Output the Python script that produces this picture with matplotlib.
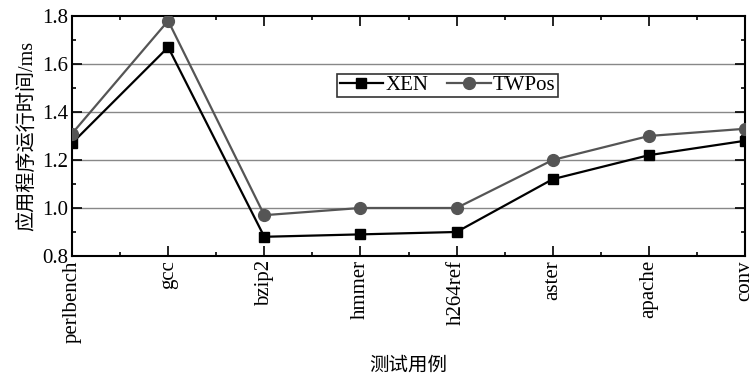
import matplotlib.pyplot as plt
from matplotlib.ticker import MultipleLocator

plt.rcParams['font.family'] = ['Liberation Serif', 'Noto Sans CJK SC']

cases = ['perlbench', 'gcc', 'bzip2', 'hmmer', 'h264ref', 'aster', 'apache', 'conv']
xen = [1.27, 1.67, 0.88, 0.89, 0.90, 1.12, 1.22, 1.28]
twpos = [1.31, 1.78, 0.97, 1.00, 1.00, 1.20, 1.30, 1.33]

fig = plt.figure(figsize=(7.51, 3.78), dpi=100)
ax = fig.add_axes([0.0959, 0.3228, 0.8961, 0.6349])

x = list(range(len(cases)))
ax.plot(x, xen, color='black', lw=1.6, marker='s', ms=7.5, label='XEN', zorder=3)
ax.plot(x, twpos, color='#555555', lw=1.6, marker='o', ms=8.5, label='TWPos', zorder=3)

ax.set_xlim(0, len(cases) - 1)
ax.set_ylim(0.8, 1.8)
ax.set_xticks(x)
ax.set_xticklabels(cases, rotation=90, fontsize=15)
ax.xaxis.set_minor_locator(MultipleLocator(0.5))
ax.yaxis.set_major_locator(MultipleLocator(0.2))
ax.yaxis.set_minor_locator(MultipleLocator(0.1))
ax.tick_params(axis='y', labelsize=15, pad=3)
ax.tick_params(axis='x', pad=3)
ax.tick_params(which='both', direction='in', top=True, right=True, width=1.2)
ax.tick_params(which='major', length=7)
ax.tick_params(which='minor', length=3)
for s in ax.spines.values():
    s.set_linewidth(1.5)
for yv in [1.0, 1.2, 1.4, 1.6]:
    ax.axhline(yv, color='#888888', lw=1, zorder=1)

ax.set_ylabel('应用程序运行时间/ms', fontsize=14.5, labelpad=3)
fig.text(0.543, 0.02, '测试用例', ha='center', fontsize=14)

leg = ax.legend(loc='center', bbox_to_anchor=(0.558, 0.71), ncol=2, fontsize=15,
                frameon=True, fancybox=False, edgecolor='black', handlelength=2.1,
                borderpad=0.1, columnspacing=0.9, handletextpad=0.1, borderaxespad=0)
leg.get_frame().set_linewidth(1.2)

fig.savefig('out.png', dpi=100)
